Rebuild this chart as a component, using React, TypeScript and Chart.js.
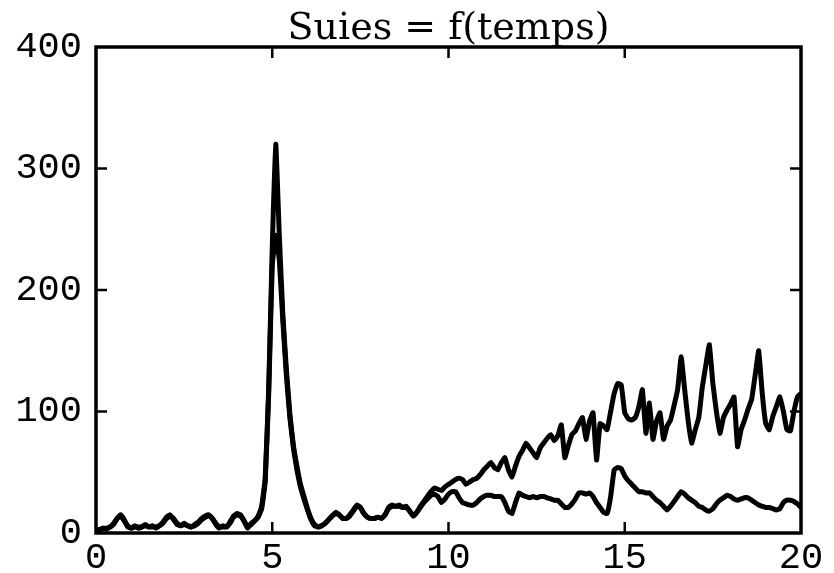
import { useEffect, useRef } from "react";
import { Chart, registerables } from "chart.js";

Chart.register(...registerables);

const TITLE = "Suies = f(temps)";
const TIME_STEP = 0.1;

// Upper curve (tall peak near t = 5.1)
const seriesHigh = [
  3, 2, 4, 3, 5, 7, 12, 15, 11, 5,
  4, 6, 4, 5, 7, 5, 6, 4, 6, 9,
  13, 15, 11, 7, 6, 8, 6, 5, 7, 9,
  12, 14, 15, 12, 7, 4, 6, 5, 9, 14,
  16, 15, 10, 4, 8, 10, 14, 22, 45, 120,
  235, 320, 245, 180, 135, 98, 72, 55, 40, 30,
  20, 12, 7, 5, 6, 8, 11, 14, 17, 15,
  12, 12, 15, 19, 23, 21, 16, 13, 12, 12,
  13, 12, 15, 21, 23, 22, 23, 21, 22, 18,
  14, 17, 22, 26, 30, 34, 37, 36, 35, 38,
  40, 42, 44, 45, 44, 40, 42, 44, 45, 48,
  52, 55, 58, 54, 52, 58, 62, 52, 46, 55,
  63, 68, 74, 70, 66, 62, 70, 74, 78, 81,
  76, 80, 89, 62, 72, 81, 84, 90, 95, 77,
  92, 99, 60, 90, 88, 85, 100, 115, 123, 122,
  99, 94, 93, 95, 104, 118, 82, 107, 77, 92,
  99, 77, 88, 93, 105, 118, 145, 118, 92, 74,
  85, 95, 120, 138, 155, 123, 100, 82, 95, 101,
  106, 112, 71, 85, 93, 102, 110, 130, 150, 115,
  90, 85, 96, 104, 112, 100, 85, 84, 100, 112,
  115,
];

// Lower curve (peak ~245, flat ~20-30 afterwards)
const seriesLow = [
  3, 3, 4, 4, 5, 8, 12, 14, 10, 6,
  4, 5, 5, 5, 6, 5, 5, 5, 6, 8,
  12, 14, 12, 8, 6, 7, 6, 5, 6, 8,
  11, 13, 14, 12, 8, 5, 5, 5, 8, 13,
  15, 14, 10, 5, 7, 10, 13, 20, 42, 115,
  220, 245, 225, 175, 130, 95, 70, 52, 38, 28,
  19, 11, 6, 5, 6, 8, 11, 14, 16, 15,
  12, 12, 14, 18, 22, 21, 16, 13, 12, 12,
  13, 12, 15, 20, 22, 22, 22, 21, 21, 18,
  14, 17, 21, 25, 28, 31, 32, 30, 25, 28,
  32, 34, 34, 29, 25, 24, 23, 23, 25, 28,
  30, 31, 31, 30, 30, 30, 25, 18, 16, 25,
  33, 31, 30, 29, 30, 29, 30, 30, 29, 28,
  27, 27, 24, 21, 21, 24, 28, 33, 33, 32,
  33, 30, 25, 21, 17, 16, 30, 52, 54, 53,
  47, 43, 40, 37, 34, 34, 33, 33, 30, 27,
  25, 22, 19, 22, 26, 30, 34, 32, 29, 27,
  25, 22, 21, 19, 18, 20, 24, 27, 29, 31,
  30, 28, 27, 28, 29, 29, 27, 25, 23, 22,
  21, 21, 20, 19, 20, 25, 27, 27, 26, 24,
  21,
];

const times = seriesHigh.map((_, i) => Math.round(i * TIME_STEP * 10) / 10);

const X_MIN = 0;
const X_MAX = 20;
const X_STEP = 5;
const Y_MIN = 0;
const Y_MAX = 400;
const Y_STEP = 100;

const framePlugin = {
  id: "frameTicks",
  afterDatasetsDraw(chart: any) {
    const { ctx, chartArea, scales } = chart;
    const { left, right, top, bottom } = chartArea;
    const xs = scales.x;
    const ys = scales.y;
    ctx.save();
    ctx.strokeStyle = "#000";
    ctx.lineWidth = 3.5;
    ctx.strokeRect(left, top, right - left, bottom - top);
    ctx.lineWidth = 2.5;
    const len = 11;
    xs.ticks.forEach((t: any) => {
      if (t.value <= X_MIN || t.value >= X_MAX) return;
      const px = xs.getPixelForValue(t.value);
      ctx.beginPath();
      ctx.moveTo(px, bottom);
      ctx.lineTo(px, bottom - len);
      ctx.moveTo(px, top);
      ctx.lineTo(px, top + len);
      ctx.stroke();
    });
    ys.ticks.forEach((t: any) => {
      if (t.value <= Y_MIN || t.value >= Y_MAX) return;
      const py = ys.getPixelForValue(t.value);
      ctx.beginPath();
      ctx.moveTo(left, py);
      ctx.lineTo(left + len, py);
      ctx.moveTo(right, py);
      ctx.lineTo(right - len, py);
      ctx.stroke();
    });
    ctx.restore();
  },
};

const tickFont = { family: "'Liberation Mono', monospace", size: 37, weight: "normal" as const };

export default function App() {
  const canvasRef = useRef<HTMLCanvasElement | null>(null);

  useEffect(() => {
    const canvas = canvasRef.current;
    if (!canvas) return;
    const mk = (vals: number[]) => times.map((t, i) => ({ x: t, y: vals[i] }));
    const chart = new Chart(canvas, {
      type: "line",
      data: {
        datasets: [
          {
            data: mk(seriesHigh),
            borderColor: "#000",
            borderWidth: 5,
            pointRadius: 0,
            tension: 0.1,
            fill: false,
          },
          {
            data: mk(seriesLow),
            borderColor: "#000",
            borderWidth: 5,
            pointRadius: 0,
            tension: 0.1,
            fill: false,
          },
        ],
      },
      options: {
        animation: false,
        responsive: false,
        layout: { padding: { left: 0, right: 33, top: 0, bottom: 0 } },
        plugins: {
          legend: { display: false },
          tooltip: { enabled: false },
          title: {
            display: true,
            text: TITLE,
            color: "#000",
            fullSize: false,
            font: { family: "'DejaVu Serif', serif", size: 38, weight: "normal", lineHeight: 0.9 },
            padding: { top: 12, bottom: 0.8 },
          },
        },
        scales: {
          x: {
            type: "linear",
            min: X_MIN,
            max: X_MAX,
            grid: { display: false, drawTicks: false },
            border: { display: false },
            ticks: { stepSize: X_STEP, color: "#000", font: tickFont, padding: 3, maxRotation: 0 },
            afterFit: (s: any) => {
              s.height = 40;
            },
          },
          y: {
            type: "linear",
            min: Y_MIN,
            max: Y_MAX,
            grid: { display: false, drawTicks: false },
            border: { display: false },
            ticks: { stepSize: Y_STEP, color: "#000", font: tickFont, padding: 14 },
            afterFit: (s: any) => {
              s.width = 96;
            },
          },
        },
      },
      plugins: [framePlugin],
    });
    return () => chart.destroy();
  }, []);

  return (
    <div style={{ position: "fixed", left: 0, top: 0, width: 834, height: 573, background: "#fff" }}>
      <canvas ref={canvasRef} width={834} height={573} style={{ display: "block" }} />
    </div>
  );
}
